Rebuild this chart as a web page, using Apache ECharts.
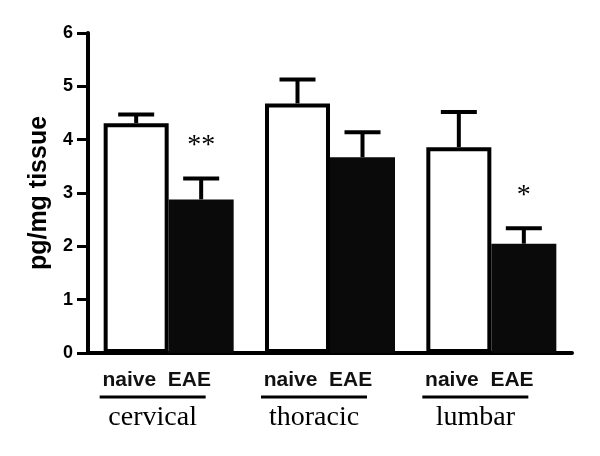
<!DOCTYPE html>
<html><head><meta charset="utf-8">
<script src="https://cdn.jsdelivr.net/npm/echarts@6/dist/echarts.min.js"></script>
<style>html,body{margin:0;padding:0;background:#fff}#c{width:600px;height:456px}</style>
</head><body><div id="c"></div>
<script>
// ---- data ----
const regions = ['cervical', 'thoracic', 'lumbar'];
const groupLabels = ['naive', 'EAE'];
const naiveMean = [4.31, 4.68, 3.86];
const naiveSEM  = [0.16, 0.45, 0.66];
const eaeMean   = [2.88, 3.67, 2.05];
const eaeSEM    = [0.39, 0.47, 0.29];
const eaeSig    = ['**', '', '*'];
const yTicks    = [0, 1, 2, 3, 4, 5, 6];
const yName     = 'pg/mg tissue';

// ---- style ----
const BAR_W = 65;
const SANS = '"Liberation Sans", Arial, sans-serif';
const SERIF = '"Liberation Serif", "Times New Roman", serif';

function errorSeries(means, sems, side, sig) {
  return {
    type: 'custom',
    z: 5,
    data: means.map((m, i) => [i, m, sems[i]]),
    encode: { x: 0, y: 1 },
    renderItem: function (params, api) {
      const i = api.value(0), m = api.value(1), s = api.value(2);
      const base = api.coord([i, m]);
      const top = api.coord([i, m + s]);
      const x = base[0] + side * BAR_W / 2;
      const capHalf = 18;
      const children = [
        { type: 'line', shape: { x1: x, y1: base[1], x2: x, y2: top[1] }, style: { stroke: '#000', lineWidth: 4 } },
        { type: 'line', shape: { x1: x - capHalf, y1: top[1], x2: x + capHalf, y2: top[1] }, style: { stroke: '#000', lineWidth: 4 } }
      ];
      if (sig && sig[params.dataIndex]) {
        children.push({ type: 'text', x: x, y: top[1] - 33, style: { text: sig[params.dataIndex], font: '28px ' + SERIF, fill: '#000', align: 'center', verticalAlign: 'middle' } });
      }
      return { type: 'group', children: children };
    }
  };
}

const chart = echarts.init(document.getElementById('c'), null, { renderer: 'canvas' });
chart.setOption({
  animation: false,
  backgroundColor: '#fff',
  grid: { left: 88, top: 33, width: 484, height: 320, containLabel: false, outerBoundsMode: 'none' },
  xAxis: {
    type: 'category',
    data: regions,
    axisTick: { show: false },
    axisLine: { lineStyle: { color: '#000', width: 4 } },
    axisLabel: {
      interval: 0,
      margin: 15,
      padding: [0, 32, 0, 0],
      formatter: function (v) { return '{sub|' + groupLabels[0] + '  ' + groupLabels[1] + '}\n{bar|}\n{cat|' + v + '}'; },
      rich: {
        sub: { fontFamily: SANS, fontWeight: 'bold', fontSize: 21, color: '#111', lineHeight: 24, align: 'center', padding: [0, 0, 0, 8] },
        bar: { width: 106, height: 3, backgroundColor: '#000', lineHeight: 10, align: 'center' },
        cat: { fontFamily: SERIF, fontSize: 28, color: '#000', lineHeight: 32, align: 'center' }
      }
    }
  },
  yAxis: {
    type: 'value',
    min: yTicks[0], max: yTicks[yTicks.length - 1], interval: 1,
    name: yName,
    nameLocation: 'middle',
    nameRotate: 90,
    nameGap: 36,
    nameTextStyle: { fontFamily: SANS, fontWeight: 'bold', fontSize: 25, color: '#000' },
    axisLine: { show: true, lineStyle: { color: '#000', width: 4 } },
    axisTick: { show: true, length: 11, lineStyle: { color: '#000', width: 3 } },
    splitLine: { show: false },
    axisLabel: { fontFamily: SANS, fontWeight: 'bold', fontSize: 18, color: '#000', margin: 15 }
  },
  series: [
    { type: 'bar', name: groupLabels[0], data: naiveMean, barWidth: BAR_W, barGap: '0%',
      itemStyle: { color: '#fff', borderColor: '#000', borderWidth: 4 } },
    { type: 'bar', name: groupLabels[1], data: eaeMean, barWidth: BAR_W, barGap: '0%',
      itemStyle: { color: '#0a0a0a', borderColor: '#0a0a0a', borderWidth: 0 } },
    errorSeries(naiveMean, naiveSEM, -1, null),
    errorSeries(eaeMean, eaeSEM, 1, eaeSig)
  ]
});
</script></body></html>
